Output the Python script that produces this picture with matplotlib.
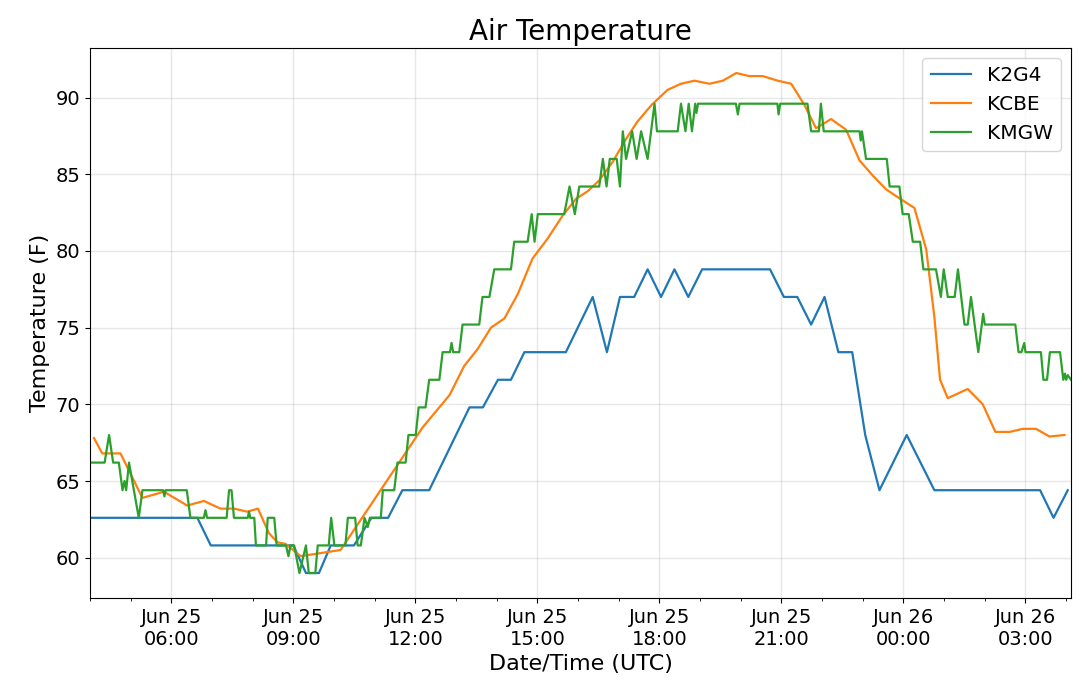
import matplotlib
matplotlib.use("Agg")
import matplotlib.pyplot as plt
import matplotlib.dates as mdates
import pandas as pd

base = pd.Timestamp("2018-06-25 00:00")

# hours since Jun 25 00:00 UTC, temperatures in F
k2g4_hours = [4.00, 6.64, 6.97, 9.00, 9.31, 9.63, 9.92, 10.49, 10.92, 11.33, 11.68, 12.34,
              13.33, 13.66, 14.03, 14.35, 14.68, 15.70, 16.36, 16.71, 17.03, 17.38, 17.71,
              18.04, 18.37, 18.71, 19.05, 20.72, 21.06, 21.39, 21.73, 22.06, 22.40, 22.74,
              23.06, 23.41, 24.08, 24.76, 27.36, 27.69, 28.04]
k2g4_temp = [62.6, 62.6, 60.8, 60.8, 59.0, 59.0, 60.8, 60.8, 62.6, 62.6, 64.4, 64.4,
             69.8, 69.8, 71.6, 71.6, 73.4, 73.4, 77.0, 73.4, 77.0, 77.0, 78.8,
             77.0, 78.8, 77.0, 78.8, 78.8, 77.0, 77.0, 75.2, 77.0, 73.4, 73.4,
             68.0, 64.4, 68.0, 64.4, 64.4, 62.6, 64.4]

kcbe_hours = [4.10, 4.30, 4.75, 5.29, 5.82, 6.39, 6.80, 7.21, 7.54, 7.87, 8.13, 8.40, 8.61,
              8.81, 9.18, 9.67, 10.16, 12.18, 12.84, 13.20, 13.53, 13.86, 14.19, 14.52,
              14.88, 15.25, 15.62, 15.95, 16.24, 16.52, 16.85, 17.18, 17.45, 17.80, 18.20,
              18.53, 18.86, 19.23, 19.56, 19.89, 20.21, 20.54, 20.91, 21.24, 21.57, 21.85,
              22.22, 22.59, 22.92, 23.25, 23.58, 23.92, 24.27, 24.56, 24.76, 24.90, 25.09,
              25.58, 25.95, 26.26, 26.61, 26.93, 27.26, 27.59, 27.96]
kcbe_temp = [67.8, 66.8, 66.8, 63.9, 64.3, 63.4, 63.7, 63.2, 63.2, 63.0, 63.2, 61.6, 61.0,
             60.9, 60.1, 60.3, 60.5, 68.5, 70.6, 72.5, 73.6, 75.0, 75.6, 77.2,
             79.5, 80.8, 82.3, 83.4, 83.9, 84.6, 85.8, 87.3, 88.4, 89.5, 90.5,
             90.9, 91.1, 90.9, 91.1, 91.6, 91.4, 91.4, 91.1, 90.9, 89.5, 88.0,
             88.6, 87.9, 85.9, 84.9, 84.0, 83.4, 82.8, 80.1, 75.7, 71.6, 70.4,
             71.0, 70.0, 68.2, 68.2, 68.4, 68.4, 67.9, 68.0]

kmgw_hours = [4.00, 4.36, 4.47, 4.57, 4.71, 4.80, 4.85, 4.89, 4.96, 5.20, 5.29, 5.80, 5.83,
              5.86, 6.38, 6.47, 6.80, 6.84, 6.88, 7.36, 7.42, 7.48, 7.54, 7.88, 7.91, 7.94,
              8.04, 8.08, 8.33, 8.37, 8.53, 8.59, 8.82, 8.88, 8.93, 9.02, 9.15, 9.31, 9.38,
              9.54, 9.60, 9.87, 9.93, 10.01, 10.28, 10.34, 10.52, 10.58, 10.66, 10.75, 10.83,
              10.88, 11.15, 11.20, 11.48, 11.56, 11.76, 11.83, 12.01, 12.08, 12.25, 12.34,
              12.59, 12.67, 12.85, 12.89, 12.93, 13.08, 13.16, 13.57, 13.65, 13.82, 13.94,
              14.35, 14.43, 14.76, 14.86, 14.93, 15.01, 15.66, 15.79, 15.92, 16.03, 16.52,
              16.61, 16.70, 16.78, 16.95, 17.03, 17.10, 17.18, 17.33, 17.44, 17.55, 17.71,
              17.88, 17.94, 18.45, 18.53, 18.64, 18.72, 18.80, 18.88, 18.91, 18.95, 19.88,
              19.93, 19.97, 20.90, 20.93, 20.97, 21.64, 21.73, 21.92, 21.97, 22.04, 22.92,
              22.95, 22.98, 23.08, 23.59, 23.66, 23.90, 23.98, 24.13, 24.23, 24.41, 24.49,
              24.80, 24.92, 24.99, 25.09, 25.26, 25.34, 25.50, 25.58, 25.66, 25.84, 25.96,
              26.00, 26.75, 26.83, 26.90, 26.97, 27.00, 27.38, 27.44, 27.53, 27.60, 27.85,
              27.93, 27.97, 28.00, 28.04, 28.12]
kmgw_temp = [66.2, 66.2, 68.0, 66.2, 66.2, 64.4, 65.0, 64.4, 66.2, 62.6, 64.4, 64.4, 64.0,
             64.4, 64.4, 62.6, 62.6, 63.1, 62.6, 62.6, 64.4, 64.4, 62.6, 62.6, 63.0, 62.6,
             62.6, 60.8, 60.8, 62.6, 62.6, 60.8, 60.8, 60.1, 60.8, 60.8, 59.0, 60.8, 59.0,
             59.0, 60.8, 60.8, 62.6, 60.8, 60.8, 62.6, 62.6, 60.8, 60.8, 62.6, 62.0,
             62.6, 62.6, 64.4, 64.4, 66.2, 66.2, 68.0, 68.0, 69.8, 69.8, 71.6,
             71.6, 73.4, 73.4, 74.0, 73.4, 73.4, 75.2, 75.2, 77.0, 77.0, 78.8,
             78.8, 80.6, 80.6, 82.4, 80.6, 82.4, 82.4, 84.2, 82.4, 84.2, 84.2,
             86.0, 84.2, 86.0, 86.0, 84.2, 87.8, 86.0, 87.8, 86.0, 87.8, 86.0,
             89.6, 87.8, 87.8, 89.6, 87.8, 89.6, 87.8, 89.6, 89.0, 89.6, 89.6,
             88.9, 89.6, 89.6, 88.9, 89.6, 89.6, 87.8, 87.8, 89.6, 87.8, 87.8,
             87.2, 87.8, 86.0, 86.0, 84.2, 84.2, 82.4, 82.4, 80.6, 80.6, 78.8,
             78.8, 77.0, 78.8, 77.0, 77.0, 78.8, 75.2, 75.2, 77.0, 73.4, 75.9,
             75.2, 75.2, 73.4, 73.4, 74.0, 73.4, 73.4, 71.6, 71.6, 73.4, 73.4,
             71.6, 72.0, 71.6, 71.9, 71.6]

stations = ["K2G4", "KCBE", "KMGW"]


def to_dt(hours):
    return [base + pd.Timedelta(hours=h) for h in hours]


fig = plt.figure(figsize=(10.8, 6.87), dpi=100)
ax = fig.add_axes([0.0833, 0.1295, 0.9084, 0.8006])

series = [(k2g4_hours, k2g4_temp), (kcbe_hours, kcbe_temp), (kmgw_hours, kmgw_temp)]
colors = ["#1f77b4", "#ff7f0e", "#2ca02c"]
for name, (h, v), c in zip(stations, series, colors):
    ax.plot(to_dt(h), v, color=c, lw=1.6, label=name)

all_h = k2g4_hours + kcbe_hours + kmgw_hours
ax.set_xlim(base + pd.Timedelta(hours=min(all_h)), base + pd.Timedelta(hours=max(all_h)))

ax.xaxis.set_major_locator(mdates.HourLocator(byhour=range(0, 24, 3)))
ax.xaxis.set_minor_locator(mdates.HourLocator())
ax.xaxis.set_major_formatter(mdates.DateFormatter("%b %d\n%H:%M"))
ax.set_yticks([60, 65, 70, 75, 80, 85, 90])

ax.grid(True, which="major", color="#b0b0b0", alpha=0.3, lw=1)
ax.tick_params(axis="both", which="major", labelsize=14)

ax.set_title("Air Temperature", fontsize=20)
ax.set_xlabel("Date/Time (UTC)", fontsize=16)
ax.set_ylabel("Temperature (F)", fontsize=16)
ax.legend(loc="upper right", fontsize=14.5)

fig.savefig("out.png", dpi=100)
